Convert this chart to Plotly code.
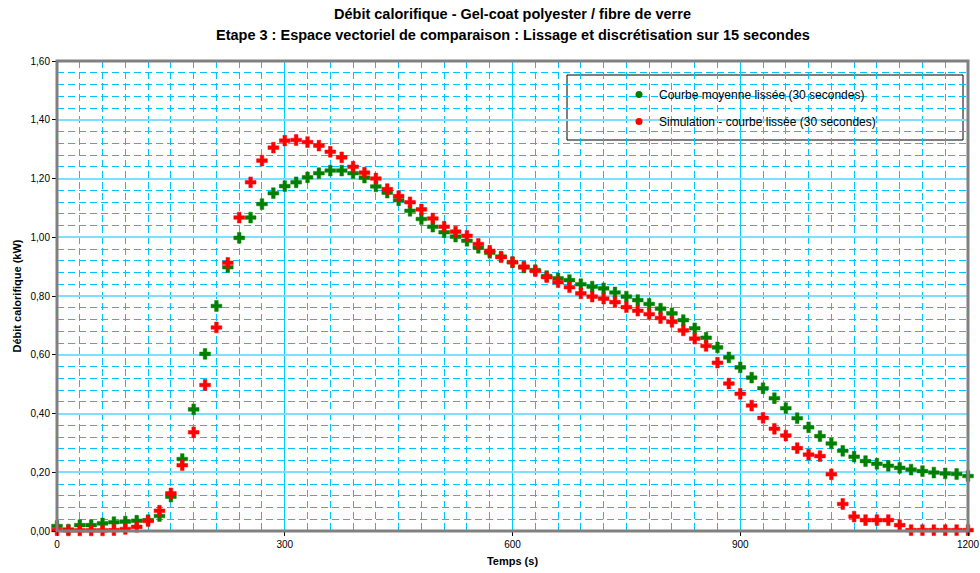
import plotly.graph_objects as go

# Temps (s) : discrétisation sur 15 secondes
temps = [0, 15, 30, 45, 60, 75, 90, 105, 120, 135, 150, 165, 180, 195, 210, 225,
         240, 255, 270, 285, 300, 315, 330, 345, 360, 375, 390, 405, 420, 435, 450,
         465, 480, 495, 510, 525, 540, 555, 570, 585, 600, 615, 630, 645, 660, 675,
         690, 705, 720, 735, 750, 765, 780, 795, 810, 825, 840, 855, 870, 885, 900,
         915, 930, 945, 960, 975, 990, 1005, 1020, 1035, 1050, 1065, 1080, 1095,
         1110, 1125, 1140, 1155, 1170, 1185, 1200]

# Courbe moyenne lissée (30 secondes), kW
courbe_moyenne = [0.017, 0.005, 0.020, 0.020, 0.026, 0.030, 0.032, 0.035, 0.037, 0.051,
                  0.117, 0.245, 0.414, 0.603, 0.766, 0.898, 0.998, 1.067, 1.113, 1.150,
                  1.174, 1.187, 1.204, 1.218, 1.227, 1.227, 1.218, 1.203, 1.173, 1.152,
                  1.126, 1.090, 1.062, 1.036, 1.017, 1.002, 0.988, 0.964, 0.947, 0.934,
                  0.915, 0.897, 0.888, 0.868, 0.860, 0.854, 0.840, 0.832, 0.826, 0.812,
                  0.798, 0.786, 0.773, 0.757, 0.741, 0.718, 0.690, 0.658, 0.625, 0.591,
                  0.557, 0.522, 0.486, 0.452, 0.418, 0.384, 0.353, 0.323, 0.298, 0.273,
                  0.253, 0.238, 0.229, 0.222, 0.215, 0.209, 0.204, 0.199, 0.196, 0.194,
                  0.187]

# Simulation - courbe lissée (30 secondes), kW
simulation = [0.003, 0.002, 0.002, 0.002, 0.002, 0.003, 0.007, 0.014, 0.034, 0.069,
              0.128, 0.224, 0.336, 0.497, 0.693, 0.913, 1.067, 1.187, 1.261, 1.305,
              1.329, 1.331, 1.324, 1.312, 1.291, 1.272, 1.240, 1.220, 1.200, 1.164,
              1.140, 1.119, 1.095, 1.064, 1.036, 1.019, 1.005, 0.977, 0.954, 0.932,
              0.915, 0.900, 0.885, 0.864, 0.847, 0.830, 0.809, 0.798, 0.791, 0.779,
              0.762, 0.750, 0.738, 0.725, 0.712, 0.683, 0.655, 0.630, 0.573, 0.502,
              0.467, 0.427, 0.385, 0.348, 0.325, 0.282, 0.260, 0.255, 0.193, 0.092,
              0.049, 0.037, 0.037, 0.037, 0.020, 0.003, 0.003, 0.003, 0.003, 0.003,
              0.003]

noms = ["Courbe moyenne lissée (30 secondes)", "Simulation - courbe lissée (30 secondes)"]
couleurs = ["#008000", "#FF0000"]

FONT = "Liberation Sans, Arial, sans-serif"
GRID_MAJ = "#7FDFFF"
GRID_MIN = "#00C4FF"

# géométrie de la zone de tracé (pixels)
L, R, T, B = 57, 12, 61, 42
W, H = 980 - L - R, 573 - T - B

fig = go.Figure()

for serie, nom, coul in zip([courbe_moyenne, simulation], noms, couleurs):
    fig.add_trace(go.Scatter(
        x=temps, y=serie, mode="markers", name=nom, showlegend=False,
        marker=dict(symbol="cross", size=9, color=coul,
                    line=dict(width=0.5, color=coul)),
        cliponaxis=False,
    ))
    # entrée de légende avec un marqueur rond
    fig.add_trace(go.Scatter(
        x=[None], y=[None], mode="markers", name=nom, legendgroup=nom,
        marker=dict(symbol="circle", size=7, color=coul),
    ))

# cadre de la légende
fig.add_shape(type="rect", xref="paper", yref="paper",
              x0=(567 - L) / W, x1=(963 - L) / W,
              y0=(573 - B - 140) / H, y1=(573 - B - 75) / H,
              line=dict(color="#000000", width=1), fillcolor="white", layer="below")

# cadre de la zone de tracé
fig.add_shape(type="rect", xref="paper", yref="paper", x0=0, x1=1, y0=0, y1=1,
              line=dict(color="#808080", width=3), layer="above")

fig.update_layout(
    width=980, height=573,
    margin=dict(l=L, r=R, t=T, b=B, autoexpand=False),
    paper_bgcolor="white", plot_bgcolor="white",
    separators=", ",
    font=dict(family=FONT, size=10, color="#000000"),
    showlegend=True,
    legend=dict(x=(619 - L) / W, y=(573 - B - 80) / H, xanchor="left", yanchor="top",
                bgcolor="rgba(0,0,0,0)", borderwidth=0,
                font=dict(family=FONT, size=12, color="#000000"),
                tracegroupgap=8, itemwidth=30),
    xaxis=dict(
        range=[0, 1200], tickvals=[0, 300, 600, 900, 1200],
        showgrid=True, gridcolor="#00CCFF", gridwidth=1,
        minor=dict(dtick=30, tick0=0, showgrid=True, gridcolor=GRID_MIN,
                   griddash="7px,4px", gridwidth=1.2),
        showline=True, linecolor="#000000", linewidth=1, mirror=False,
        ticks="outside", ticklen=4, tickcolor="#000000",
        zeroline=False, automargin=False,
        title=dict(text="<b>Temps (s)</b>", font=dict(family=FONT, size=11), standoff=8),
        tickfont=dict(family=FONT, size=10),
    ),
    yaxis=dict(
        range=[0, 1.6], dtick=0.2, tick0=0, tickformat=".2f",
        showgrid=True, gridcolor=GRID_MAJ, gridwidth=2,
        minor=dict(dtick=0.04, tick0=0, showgrid=True, gridcolor=GRID_MIN,
                   griddash="7px,4px", gridwidth=1.2),
        showline=True, linecolor="#000000", linewidth=1,
        ticks="outside", ticklen=4, tickcolor="#000000",
        zeroline=False, automargin=False,
        title=dict(text="<b>Débit calorifique (kW)</b>", font=dict(family=FONT, size=11),
                   standoff=6),
        tickfont=dict(family=FONT, size=10),
    ),
    annotations=[
        dict(text="<b>Débit calorifique - Gel-coat polyester / fibre de verre</b>",
             xref="paper", yref="paper", x=0.5, y=(573 - B - 14) / H, showarrow=False,
             xanchor="center", yanchor="middle", font=dict(family=FONT, size=14.5)),
        dict(text="<b>Etape 3 : Espace vectoriel de comparaison : Lissage et discrétisation sur 15 secondes</b>",
             xref="paper", yref="paper", x=0.5, y=(573 - B - 35) / H, showarrow=False,
             xanchor="center", yanchor="middle", font=dict(family=FONT, size=14.5)),
    ],
)

fig.write_html("out.html")
